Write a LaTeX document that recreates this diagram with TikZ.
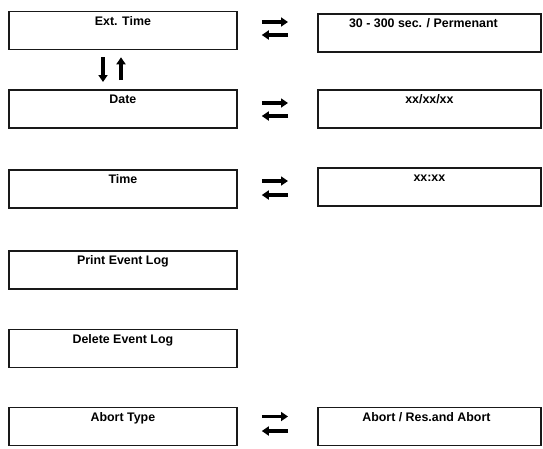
\documentclass[tikz,border=0pt]{standalone}
\usepackage{fontspec}
\setmainfont{Liberation Sans}
\usetikzlibrary{arrows.meta,calc}
\tikzset{
  menubox/.style={draw=black!90, line width=1.8pt, anchor=north west, inner sep=0pt,
    minimum width=228pt, text height=14pt, text depth=24pt,
    font=\bfseries\fontsize{12.4}{13}\selectfont},
  valbox/.style={menubox, minimum width=223pt},
  fwd/.style={line width=3.6pt, -{Triangle[length=7pt,width=9pt]}},
}
\begin{document}
\begin{tikzpicture}[x=1pt,y=-1pt]
\useasboundingbox (0,0) rectangle (543,448);

% menu items
\node[menubox] (ext)   at (8,10.5)  {Ext. Time};
\node[menubox] (date)  at (8,89)    {Date};
\node[menubox] (time)  at (8,169)   {Time};
\node[menubox] (print) at (8,250)   {Print Event Log};
\node[menubox] (del)   at (8,328.5) {Delete Event Log};
\node[menubox] (abort) at (8,406.5) {Abort Type};

% setting values
\node[valbox] (vext)   at (317,13)    {30 - 300 sec. / Permenant\hspace*{12pt}};
\node[valbox] (vdate)  at (317,89)    {xx/xx/xx};
\node[valbox] (vtime)  at (317,167)   {xx:xx};
\node[valbox] (vabort) at (317,406.5) {Abort / Res.and Abort\hspace*{6pt}};

% paired arrows between an item and its value
\draw[fwd] ($(ext.north east)+(24,11.5)$) -- ($(vext.north west)+(-29,9)$);
\draw[fwd] ($(vext.north west)+(-29,22)$) -- ($(ext.north east)+(24,24.5)$);
\draw[fwd] ($(date.north east)+(24,14)$) -- ($(vdate.north west)+(-29,14)$);
\draw[fwd] ($(vdate.north west)+(-29,27)$) -- ($(date.north east)+(24,27)$);
\draw[fwd] ($(time.north east)+(24,12)$) -- ($(vtime.north west)+(-29,14)$);
\draw[fwd] ($(vtime.north west)+(-29,28)$) -- ($(time.north east)+(24,26)$);
\draw[fwd] ($(abort.north east)+(24,10)$) -- ($(vabort.north west)+(-29,10)$);
\draw[fwd] ($(vabort.north west)+(-29,24.5)$) -- ($(abort.north east)+(24,24.5)$);

% scrolling between the first two items
\draw[fwd] ($(ext.south west)+(95,7)$) -- ($(date.north west)+(95,-7)$);
\draw[fwd] ($(date.north west)+(113,-9)$) -- ($(ext.south west)+(113,7)$);
\end{tikzpicture}
\end{document}
